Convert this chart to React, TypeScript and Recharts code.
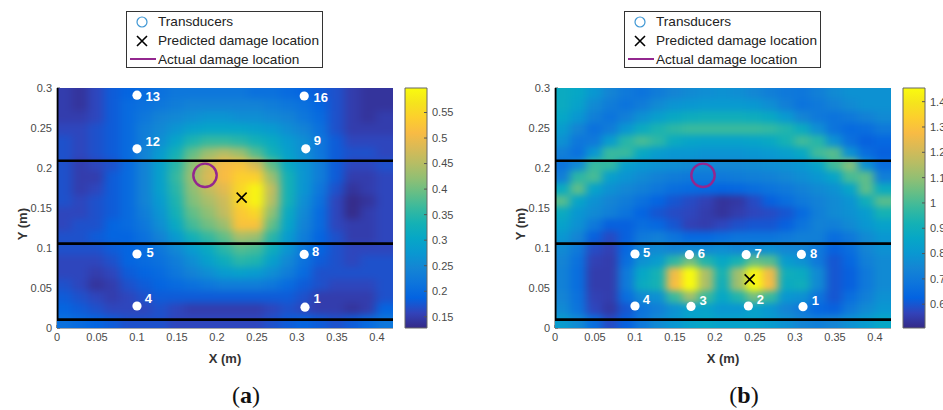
import React from "react";
import { ScatterChart, Scatter, XAxis, YAxis, ReferenceArea, Legend } from "recharts";

const xTicks = [0, 0.05, 0.1, 0.15, 0.2, 0.25, 0.3, 0.35, 0.4];
const yTicks = [0, 0.05, 0.1, 0.15, 0.2, 0.25, 0.3];
const barTicksA = [0.15, 0.2, 0.25, 0.3, 0.35, 0.4, 0.45, 0.5, 0.55];
const barTicksB = [0.6, 0.7, 0.8, 0.9, 1, 1.1, 1.2, 1.3, 1.4];
const wallLines = [0.209, 0.1055, 0.0105];
const leftEdge = [{ x: 0, y: 0.0105 }, { x: 0, y: 0.3 }];
const parula = ["#352a87","#3243ba","#0363e1","#0d75dc","#1485d4","#0998d1","#06a7c6","#15b1b4","#38b99e","#65be86","#92bf73","#b7bd64","#d9ba56","#f8bb44","#fcce2e","#f5e41d","#f9fb0e"];

const sensorsA = [{x:0.1,y:0.291},{x:0.309,y:0.29},{x:0.1,y:0.224},{x:0.311,y:0.224},{x:0.1,y:0.0925},{x:0.309,y:0.092},{x:0.1,y:0.0275},{x:0.31,y:0.026}];
const labelsA = [{x:0.1196,y:0.2891,t:"13"},{x:0.3296,y:0.2879,t:"16"},{x:0.1196,y:0.2329,t:"12"},{x:0.3254,y:0.2338,t:"9"},{x:0.1163,y:0.0941,t:"5"},{x:0.3234,y:0.0954,t:"8"},{x:0.1141,y:0.0366,t:"4"},{x:0.325,y:0.0366,t:"1"}];
const sensorsB = [{x:0.1,y:0.0925},{x:0.168,y:0.0917},{x:0.239,y:0.0917},{x:0.308,y:0.092},{x:0.1,y:0.0275},{x:0.17,y:0.027},{x:0.2417,y:0.0275},{x:0.31,y:0.0267}];
const labelsB = [{x:0.1146,y:0.0946,t:"5"},{x:0.183,y:0.0933,t:"6"},{x:0.2538,y:0.0933,t:"7"},{x:0.3233,y:0.0933,t:"8"},{x:0.1142,y:0.0358,t:"4"},{x:0.185,y:0.0342,t:"3"},{x:0.2567,y:0.0358,t:"2"},{x:0.3254,y:0.0342,t:"1"}];
const predictedA = [{x:0.2308,y:0.163}];
const predictedB = [{x:0.2433,y:0.0608}];
const actual = [{x:0.185,y:0.1908}];

const rowsA = [
[.15,.14,.16,.18,.19,.20,.21,.22,.22,.22,.22,.22,.21,.21,.20,.19,.18,.17,.15,.14,.14],
[.15,.14,.16,.18,.20,.21,.22,.23,.24,.24,.24,.24,.24,.23,.22,.21,.19,.17,.15,.14,.14],
[.15,.15,.16,.18,.20,.22,.24,.25,.26,.27,.27,.26,.26,.25,.24,.22,.20,.17,.15,.14,.15],
[.16,.16,.17,.18,.20,.23,.25,.27,.29,.30,.30,.30,.29,.28,.26,.24,.21,.17,.15,.15,.15],
[.17,.16,.17,.18,.20,.23,.26,.30,.34,.36,.36,.35,.33,.31,.28,.26,.22,.18,.16,.16,.16],
[.17,.16,.17,.18,.20,.24,.28,.33,.39,.43,.45,.43,.38,.33,.29,.26,.22,.18,.17,.17,.16],
[.17,.15,.16,.17,.20,.24,.29,.35,.42,.47,.51,.52,.48,.39,.31,.27,.23,.18,.16,.16,.17],
[.17,.15,.15,.18,.20,.24,.29,.36,.43,.48,.51,.54,.54,.43,.33,.27,.23,.18,.15,.15,.16],
[.17,.15,.16,.18,.20,.24,.29,.35,.42,.46,.49,.55,.59,.46,.33,.27,.22,.17,.14,.15,.16],
[.17,.16,.17,.18,.20,.24,.28,.34,.41,.44,.47,.55,.59,.45,.33,.26,.21,.16,.13,.14,.16],
[.16,.16,.17,.18,.20,.23,.27,.33,.39,.42,.46,.53,.55,.42,.31,.25,.20,.16,.13,.15,.16],
[.16,.17,.17,.19,.20,.22,.26,.31,.37,.40,.43,.52,.52,.39,.30,.24,.20,.16,.15,.15,.16],
[.17,.17,.18,.19,.19,.21,.24,.28,.33,.36,.39,.44,.43,.35,.28,.23,.19,.17,.15,.15,.16],
[.17,.17,.17,.18,.19,.20,.22,.25,.28,.31,.35,.38,.37,.32,.27,.22,.19,.17,.16,.16,.16],
[.16,.16,.16,.17,.19,.20,.21,.23,.26,.29,.32,.35,.34,.29,.25,.21,.18,.17,.16,.17,.17],
[.16,.16,.15,.16,.18,.19,.20,.22,.24,.26,.28,.29,.28,.26,.23,.20,.17,.17,.17,.17,.17],
[.17,.16,.14,.15,.17,.18,.19,.20,.21,.22,.23,.23,.23,.22,.20,.18,.17,.16,.16,.16,.17],
[.18,.17,.16,.15,.16,.17,.18,.18,.18,.18,.18,.18,.18,.18,.18,.17,.15,.15,.15,.15,.17],
[.19,.18,.17,.16,.16,.16,.17,.16,.15,.15,.15,.15,.15,.16,.17,.16,.15,.15,.14,.15,.19],
[.21,.20,.19,.18,.17,.17,.17,.16,.16,.16,.16,.16,.16,.17,.18,.19,.18,.17,.18,.20,.22],
];

const rowsB = [
[.88,.86,.80,.74,.70,.68,.71,.74,.76,.77,.78,.77,.75,.72,.70,.69,.72,.76,.78,.78,.78],
[.88,.84,.76,.71,.68,.71,.76,.79,.80,.81,.81,.81,.80,.77,.72,.68,.70,.73,.76,.78,.78],
[.86,.80,.72,.68,.72,.78,.83,.87,.89,.90,.90,.90,.89,.87,.81,.74,.70,.68,.70,.73,.76],
[.82,.74,.67,.71,.80,.88,.93,.96,.98,.98,.98,.98,.98,.97,.94,.88,.77,.68,.65,.66,.70],
[.78,.69,.70,.82,.95,1.00,.96,.88,.85,.84,.84,.84,.85,.87,.92,.99,.95,.78,.67,.62,.64],
[.72,.67,.80,.98,.98,.87,.82,.80,.80,.79,.79,.79,.80,.81,.83,.87,.99,1.02,.78,.66,.62],
[.68,.76,.98,.97,.83,.80,.78,.77,.76,.75,.75,.75,.76,.77,.78,.80,.85,.99,1.08,.78,.66],
[.72,.96,1.00,.83,.79,.76,.73,.71,.70,.70,.70,.71,.72,.73,.75,.77,.80,.85,1.00,1.03,.72],
[.88,1.03,.84,.78,.75,.72,.69,.66,.65,.64,.63,.64,.66,.68,.70,.73,.76,.78,.85,1.03,.88],
[1.02,.85,.78,.74,.71,.67,.63,.60,.58,.56,.53,.54,.58,.62,.66,.70,.73,.76,.79,.90,1.02],
[.88,.80,.76,.72,.68,.63,.60,.58,.57,.55,.53,.55,.57,.58,.60,.65,.72,.76,.78,.82,.92],
[.84,.78,.70,.62,.62,.66,.64,.60,.56,.55,.57,.59,.60,.60,.62,.68,.73,.72,.76,.80,.84],
[.80,.74,.62,.58,.62,.70,.72,.68,.64,.64,.66,.68,.68,.68,.70,.72,.72,.66,.70,.76,.80],
[.76,.70,.58,.56,.64,.74,.76,.74,.76,.76,.77,.75,.76,.78,.75,.74,.70,.62,.66,.74,.78],
[.74,.67,.56,.55,.66,.78,.82,.96,1.06,.94,.86,.92,1.04,1.02,.82,.78,.70,.60,.64,.72,.76],
[.73,.66,.55,.55,.70,.86,.92,1.26,1.52,1.14,.92,1.12,1.44,1.26,.90,.88,.76,.60,.62,.70,.76],
[.73,.66,.55,.55,.70,.88,.92,1.28,1.58,1.14,.90,1.12,1.46,1.28,.88,.90,.76,.60,.62,.70,.76],
[.74,.67,.56,.55,.66,.76,.78,.98,1.12,.98,.86,.94,1.06,.98,.80,.78,.68,.60,.66,.72,.78],
[.76,.68,.57,.54,.60,.68,.72,.78,.84,.84,.80,.80,.84,.80,.74,.70,.64,.62,.70,.76,.80],
[.82,.76,.66,.58,.62,.70,.76,.80,.84,.86,.84,.84,.84,.82,.78,.74,.72,.74,.78,.82,.86],
];

function colorOf(v: number, lo: number, hi: number) {
  const t = Math.max(0, Math.min(0.9999, (v - lo) / (hi - lo))) * (parula.length - 1);
  const i = Math.floor(t), f = t - i;
  const c = (h: string, p: number) => parseInt(h.slice(p, p + 2), 16);
  const mix = (p: number) => Math.round(c(parula[i], p) * (1 - f) + c(parula[i + 1], p) * f);
  return `rgb(${mix(1)},${mix(3)},${mix(5)})`;
}

function buildCells(rows: number[][]) {
  const out: { x: number; y: number; v: number }[] = [];
  const nr = rows.length, nc = rows[0].length;
  for (let r = -3; r < nr + 3; r++) {
    for (let c = -3; c < nc + 3; c++) {
      const rr = Math.max(0, Math.min(nr - 1, r));
      const cc = Math.max(0, Math.min(nc - 1, c));
      out.push({ x: 0.01 + 0.02 * c, y: 0.2925 - 0.015 * r, v: rows[rr][cc] });
    }
  }
  return out;
}

const tickStyle = { fill: "#4a4a4a", fontSize: 11 };
const axisLine = { stroke: "#555", strokeWidth: 1 };
const noMark = () => null;

function KeyBox() {
  return (
    <div style={{ width: 197, height: 57, border: "1px solid #333", boxSizing: "border-box", background: "#fff", position: "relative", fontFamily: "'Liberation Sans', sans-serif" }}>
      <svg width={30} height={55} style={{ position: "absolute", left: 0, top: 0 }}>
        <circle cx={15} cy={10} r={5} fill="none" stroke="#3f97d4" strokeWidth={1.2} />
        <path d="M10 24 L20 34 M20 24 L10 34" stroke="#000" strokeWidth={1.6} fill="none" />
        <line x1={3} x2={29} y1={47} y2={47} stroke="#93278f" strokeWidth={2} />
      </svg>
      {["Transducers", "Predicted damage location", "Actual damage location"].map((t, i) => (
        <div key={t} style={{ position: "absolute", left: 31, top: 2 + i * 19, fontSize: 13.6, lineHeight: "15px", color: "#222", whiteSpace: "nowrap" }}>{t}</div>
      ))}
    </div>
  );
}

function Panel({ id, rows, lo, hi, sensors, labels, predicted, left, width, caption, captionLeft, blur }: any) {
  const cells = React.useMemo(() => buildCells(rows), [rows]);
  return (
    <div style={{ position: "absolute", left, top: 0, width, height: 410 }}>
      <ScatterChart width={width} height={410} margin={{ top: 88, left: 27, bottom: 52, right: width - 393 }}>
        <defs>
          <filter id={`soft-${id}`} x="-10%" y="-10%" width="120%" height="120%" colorInterpolationFilters="sRGB">
            <feGaussianBlur stdDeviation={blur} />
          </filter>
        </defs>
        <style>{`.heat-${id}{filter:url(#soft-${id});}`}</style>
        <XAxis type="number" dataKey="x" domain={[0, 0.42]} ticks={xTicks} allowDataOverflow height={30} tickSize={-3} tickMargin={8} tick={tickStyle} axisLine={axisLine} tickLine={axisLine} interval={0}
          label={{ value: "X (m)", position: "bottom", offset: -4, fontWeight: "bold", fontSize: 13, fill: "#333" }} />
        <XAxis xAxisId="top" type="number" orientation="top" domain={[0, 0.42]} ticks={xTicks} height={0} tickSize={-3} tick={false} axisLine={axisLine} tickLine={axisLine} />
        <YAxis type="number" dataKey="y" domain={[0, 0.3]} ticks={yTicks} allowDataOverflow width={30} tickSize={-3} tickMargin={8} tick={tickStyle} axisLine={axisLine} tickLine={axisLine} interval={0}
          label={{ value: "Y (m)", angle: -90, position: "left", offset: 5, fontWeight: "bold", fontSize: 13, fill: "#333" }} />
        <YAxis yAxisId="right" type="number" orientation="right" domain={[0, 0.3]} ticks={yTicks} width={0} tickSize={-3} tick={false} axisLine={axisLine} tickLine={axisLine} />
        <Legend verticalAlign="middle" align="center" layout="horizontal" wrapperStyle={{ left: 126, top: 11, width: 197, height: 57 }} content={() => <KeyBox />} />
        <Scatter className={`heat-${id}`} data={cells} isAnimationActive={false} legendType="none"
          shape={(p: any) => <rect x={p.cx - 9} y={p.cy - 7} width={18} height={14} fill={colorOf(p.payload.v, lo, hi)} />} />
        <Scatter xAxisId="top" yAxisId="right" data={actual} isAnimationActive={false} legendType="none" shape={noMark} />
        {wallLines.map((y) => (
          <Scatter key={y} data={[{ x: 0, y }, { x: 0.42, y }]} isAnimationActive={false} legendType="none" shape={noMark} line={{ stroke: "#000", strokeWidth: 2.6 }} />
        ))}
        <Scatter data={leftEdge} isAnimationActive={false} legendType="none" shape={noMark} line={{ stroke: "#000", strokeWidth: 3 }} />
        <Scatter name="Transducers" data={sensors} isAnimationActive={false}
          shape={(p: any) => <circle cx={p.cx} cy={p.cy} r={4.6} fill="#fff" />} />
        <Scatter data={labels} isAnimationActive={false} legendType="none"
          shape={(p: any) => <text x={p.cx} y={p.cy} textAnchor="middle" dominantBaseline="central" fill="#fff" fontSize={13} fontWeight="bold" fontFamily="'Liberation Sans', sans-serif">{p.payload.t}</text>} />
        <Scatter name="Predicted damage location" data={predicted} isAnimationActive={false}
          shape={(p: any) => <path d={`M${p.cx - 5} ${p.cy - 5} L${p.cx + 5} ${p.cy + 5} M${p.cx + 5} ${p.cy - 5} L${p.cx - 5} ${p.cy + 5}`} stroke="#000" strokeWidth={1.6} fill="none" />} />
        <Scatter name="Actual damage location" data={actual} isAnimationActive={false}
          shape={(p: any) => <circle cx={p.cx} cy={p.cy} r={11.7} fill="none" stroke="#93278f" strokeWidth={2.4} />} />
      </ScatterChart>
      <div style={{ position: "absolute", left: captionLeft, top: 380, width: 40, textAlign: "center", fontFamily: "'Liberation Serif', serif", fontSize: 24, lineHeight: "30px", color: "#111" }}>
        (<b>{caption}</b>)
      </div>
    </div>
  );
}

function ColorBar({ id, lo, hi, ticks, left }: any) {
  const anchors = ticks.map((y: number) => ({ x: 0.5, y }));
  return (
    <div style={{ position: "absolute", left, top: 0, width: 70, height: 410 }}>
      <ScatterChart width={70} height={410} margin={{ top: 88, left: 10, bottom: 82, right: 0 }}>
        <defs>
          <linearGradient id={`ramp-${id}`} x1="0" y1="1" x2="0" y2="0">
            {parula.map((c, i) => <stop key={c} offset={i / (parula.length - 1)} stopColor={c} />)}
          </linearGradient>
        </defs>
        <XAxis type="number" dataKey="x" domain={[0, 1]} hide />
        <YAxis type="number" dataKey="y" orientation="right" domain={[lo, hi]} ticks={ticks} width={38} tickSize={-3} tickMargin={8} tick={tickStyle} axisLine={false} tickLine={axisLine} interval={0} />
        <ReferenceArea x1={0} x2={1} y1={lo} y2={hi} fill={`url(#ramp-${id})`} fillOpacity={1} stroke="#666" strokeWidth={1} ifOverflow="visible" />
        <Scatter data={anchors} isAnimationActive={false} shape={noMark} />
      </ScatterChart>
    </div>
  );
}

export default function App() {
  return (
    <div style={{ position: "absolute", left: 0, top: 0, width: 943, height: 410, overflow: "hidden", background: "#fff", fontFamily: "'Liberation Sans', sans-serif" }}>
      <Panel id="a" rows={rowsA} lo={0.128} hi={0.598} sensors={sensorsA} labels={labelsA} predicted={predictedA} left={0} width={470} caption="a" captionLeft={226} blur="4.6 3.8" />
      <ColorBar id="a" lo={0.128} hi={0.598} ticks={barTicksA} left={395} />
      <Panel id="b" rows={rowsB} lo={0.506} hi={1.454} sensors={sensorsB} labels={labelsB} predicted={predictedB} left={498} width={445} caption="b" captionLeft={226} blur="4.4 3.2" />
      <ColorBar id="b" lo={0.506} hi={1.454} ticks={barTicksB} left={893} />
    </div>
  );
}
